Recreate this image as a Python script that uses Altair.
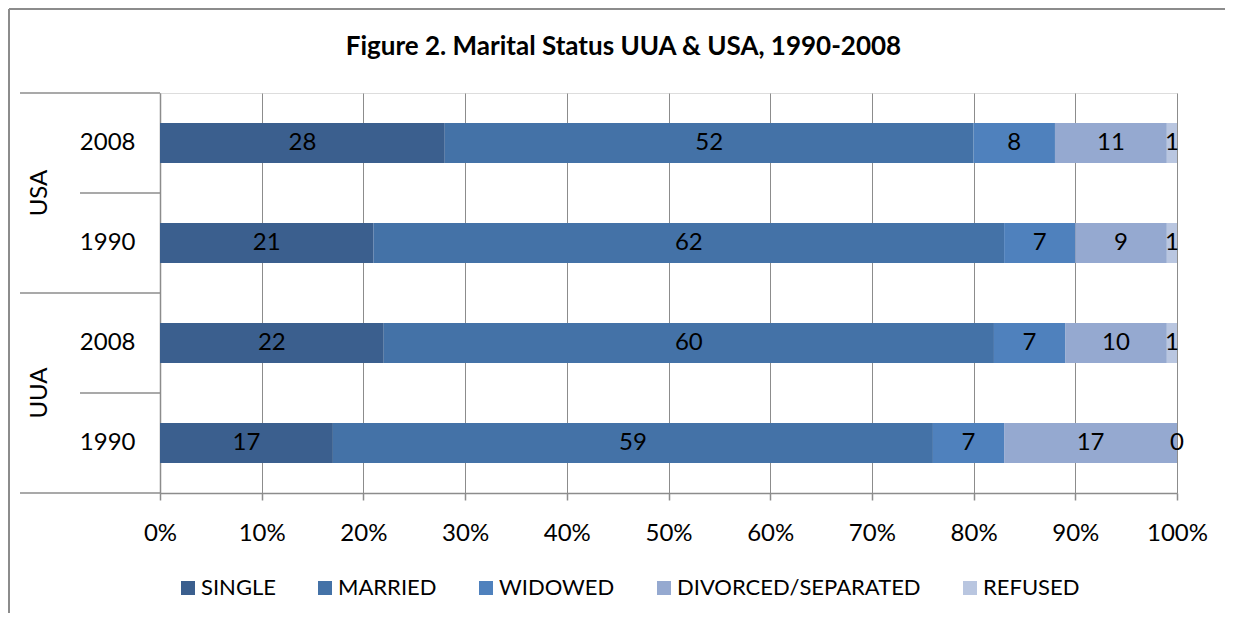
import altair as alt
import pandas as pd

# ---- data ----
countries = ["USA", "USA", "UUA", "UUA"]
years = ["2008", "1990", "2008", "1990"]
statuses = ["SINGLE", "MARRIED", "WIDOWED", "DIVORCED/SEPARATED", "REFUSED"]
single = [28, 21, 22, 17]
married = [52, 62, 60, 59]
widowed = [8, 7, 7, 7]
divorced = [11, 9, 10, 17]
refused = [1, 1, 1, 0]
colors = ["#3b5f8e", "#4472a7", "#4f81bd", "#95a9d0", "#b9c6e0"]
x_ticks = [0, 0.1, 0.2, 0.3, 0.4, 0.5, 0.6, 0.7, 0.8, 0.9, 1.0]
title_text = "Figure 2. Marital Status UUA & USA, 1990-2008"

FONT = "Lato"
GRID = "#8c8c8c"

keys = [f"{c}|{y}" for c, y in zip(countries, years)]
series = [single, married, widowed, divorced, refused]
rows = []
for si, (status, vals) in enumerate(zip(statuses, series)):
    for k, c, y, v in zip(keys, countries, years, vals):
        rows.append({"key": k, "country": c, "year": y, "status": status,
                     "order": si, "value": v})
df = pd.DataFrame(rows)

# separators between groups on the left label area (derived from categories)
n = len(keys)
country_bounds = [0] + [i for i in range(1, n) if countries[i] != countries[i - 1]] + [n]
year_bounds = [i for i in range(1, n) if i not in country_bounds]
sep_country = pd.DataFrame({"pos": country_bounds})
sep_year = pd.DataFrame({"pos": year_bounds})
uniq = list(dict.fromkeys(countries))
country_lab = pd.DataFrame({
    "country": uniq,
    "pos": [sum(i + 0.5 for i, c in enumerate(countries) if c == u) /
            countries.count(u) for u in uniq],
})

xscale = alt.Scale(domain=[0, 1], nice=False, zero=True)
yband = alt.Scale(paddingInner=0.6, paddingOuter=0.3)
yq = alt.Scale(domain=[0, n], reverse=True, nice=False, zero=False)

base = alt.Chart(df).transform_stack(
    stack="value", groupby=["key"], as_=["x0", "x1"],
    sort=[alt.SortField("order")], offset="normalize"
)

bars = base.mark_bar().encode(
    y=alt.Y("key:N", sort=keys, scale=yband, title=None,
            axis=alt.Axis(labelExpr="split(datum.label, '|')[1]", ticks=False,
                          tickSize=0, domain=True, domainColor=GRID,
                          domainWidth=1.5, labelPadding=25, labelFontSize=24,
                          labelFont=FONT, labelColor="black", grid=False)),
    x=alt.X("x0:Q", scale=xscale, title=None,
            axis=alt.Axis(values=x_ticks, format=".0%", grid=True, gridColor=GRID,
                          gridWidth=1, tickSize=7, tickColor=GRID, tickWidth=1.5,
                          domainColor=GRID, domainWidth=1.5, labelPadding=21,
                          labelFontSize=24, labelFont=FONT, labelColor="black",
                          labelFlush=False)),
    x2="x1:Q",
    color=alt.Color("status:N", scale=alt.Scale(domain=statuses, range=colors),
                    legend=alt.Legend(title=None, orient="none", direction="horizontal",
                                      legendX=17, legendY=484, symbolType="square",
                                      symbolSize=196, symbolStrokeWidth=0,
                                      labelFont=FONT, labelFontSize=22,
                                      labelColor="black", labelOffset=2,
                                      labelLimit=0, columnPadding=38, padding=0)),
)

labels = base.transform_calculate(mid="(datum.x0 + datum.x1) / 2").mark_text(
    font=FONT, fontSize=24, color="black"
).encode(
    y=alt.Y("key:N", sort=keys, scale=yband, axis=None),
    x=alt.X("mid:Q", scale=xscale),
    text="value:Q",
)

rule_c = alt.Chart(sep_country).mark_rule(color=GRID, strokeWidth=1.5).encode(
    y=alt.Y("pos:Q", scale=yq, axis=None),
    x=alt.value(-140), x2=alt.value(0),
)
rule_y = alt.Chart(sep_year).mark_rule(color=GRID, strokeWidth=1.5).encode(
    y=alt.Y("pos:Q", scale=yq, axis=None),
    x=alt.value(-80), x2=alt.value(0),
)
clabels = alt.Chart(country_lab).mark_text(
    font=FONT, fontSize=24, color="black", angle=270
).encode(
    y=alt.Y("pos:Q", scale=yq, axis=None),
    x=alt.value(-120),
    text="country:N",
)

frame_df = pd.DataFrame({"frame": ["border"]})
border_left = alt.Chart(frame_df).mark_rule(color=GRID, strokeWidth=2).encode(
    x=alt.value(-151), y=alt.value(-84), y2=alt.value(520)
)
border_top = alt.Chart(frame_df).mark_rule(color=GRID, strokeWidth=2).encode(
    x=alt.value(-151), x2=alt.value(1070), y=alt.value(-84)
)

chart = alt.layer(
    bars, labels, rule_c, rule_y, clabels, border_left, border_top
).resolve_scale(y="independent").properties(
    width=1017, height=400,
    title=alt.TitleParams(title_text, font=FONT, fontSize=26, fontWeight="bold",
                          anchor="middle", frame="group", dx=-45, offset=-52,
                          color="black"),
    autosize=alt.AutoSizeParams(type="none"),
    padding={"left": 152, "top": 85, "right": 48, "bottom": 120},
).configure_view(stroke=None).configure(background="white")

chart.save("out.html", embed_options={"renderer": "svg", "actions": False})
